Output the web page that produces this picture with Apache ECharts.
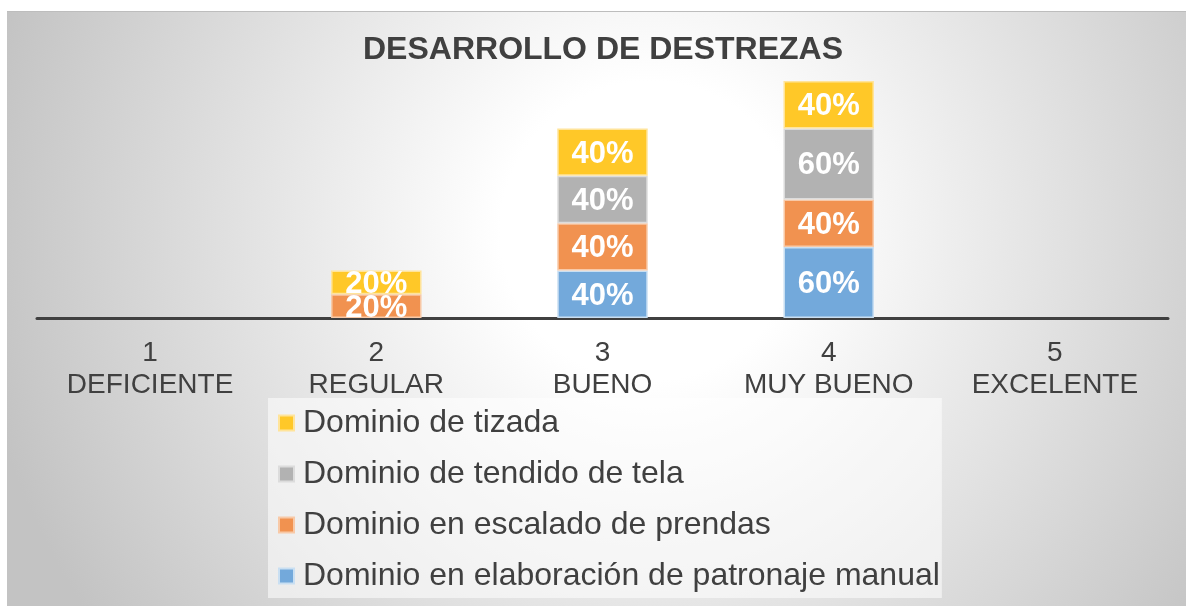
<!DOCTYPE html>
<html>
<head>
<meta charset="utf-8">
<script src="https://cdn.jsdelivr.net/npm/echarts@6/dist/echarts.min.js"></script>
<style>
html, body { margin: 0; padding: 0; background: #fff; }
#chart { position: absolute; left: 7px; top: 11px; width: 1179px; height: 595px; border-top: 1px solid #bdbdbd; box-sizing: border-box; }
</style>
</head>
<body>
<div id="chart"></div>
<script>
const categories = ['1\nDEFICIENTE', '2\nREGULAR', '3\nBUENO', '4\nMUY BUENO', '5\nEXCELENTE']
const patronaje = [0, 0, 40, 60, 0]
const escalado = [0, 20, 40, 40, 0]
const tendido = [0, 0, 40, 60, 0]
const tizada = [0, 20, 40, 40, 0]
const seriesNames = [
  'Dominio en elaboración de patronaje manual',
  'Dominio en escalado de prendas',
  'Dominio de tendido de tela',
  'Dominio de tizada'
]
const colors = ['#73a9db', '#f19250', '#b2b2b2', '#ffc828']
const borders = ['#c9dff2', '#f8c9a7', '#dcdcdc', '#ffe49a']

const chart = echarts.init(document.getElementById('chart'))

function makeSeries (name, values, i) {
  return {
    name,
    type: 'bar',
    stack: 'total',
    barWidth: '40%',
    data: values.map(v => (v === 0 ? '-' : v)),
    itemStyle: { color: colors[i], borderColor: borders[i], borderWidth: 1.5 },
    label: {
      show: true,
      position: 'inside',
      offset: [0, 2],
      formatter: '{c}%',
      color: '#fff',
      fontFamily: 'Liberation Sans',
      fontWeight: 'bold',
      fontSize: 31
    }
  }
}

chart.setOption({
  backgroundColor: {
    type: 'radial',
    x: 643,
    y: 219,
    r: 680,
    global: true,
    colorStops: [
      { offset: 0, color: '#ffffff' },
      { offset: 0.22, color: '#ffffff' },
      { offset: 1, color: '#c3c3c3' }
    ]
  },
  animation: false,
  title: {
    text: 'DESARROLLO DE DESTREZAS',
    left: 356,
    top: 22,
    padding: 0,
    textStyle: {
      fontFamily: 'Liberation Sans',
      fontWeight: 'bold',
      fontSize: 32,
      color: '#404040'
    }
  },
  legend: {
    orient: 'vertical',
    left: 261,
    top: 386,
    padding: [9, 2, 6, 10],
    backgroundColor: 'rgba(255,255,255,0.55)',
    icon: 'rect',
    itemWidth: 15,
    itemHeight: 15,
    itemGap: 19,
    data: seriesNames.slice().reverse(),
    textStyle: {
      fontFamily: 'Liberation Sans',
      fontSize: 32,
      color: '#404040',
      padding: [0, 0, 0, 4]
    }
  },
  grid: {
    left: 30,
    right: 18,
    top: 69,
    height: 237,
    containLabel: false
  },
  xAxis: {
    type: 'category',
    data: categories,
    axisLine: { lineStyle: { color: '#404040', width: 3 } },
    axisTick: { show: false },
    axisLabel: {
      margin: 19,
      fontFamily: 'Liberation Sans',
      fontSize: 28,
      lineHeight: 32,
      color: '#404040',
      interval: 0
    }
  },
  yAxis: {
    type: 'value',
    min: 0,
    max: 200,
    show: false,
    splitLine: { show: false }
  },
  series: [
    makeSeries(seriesNames[0], patronaje, 0),
    makeSeries(seriesNames[1], escalado, 1),
    makeSeries(seriesNames[2], tendido, 2),
    makeSeries(seriesNames[3], tizada, 3)
  ]
})
</script>
</body>
</html>
